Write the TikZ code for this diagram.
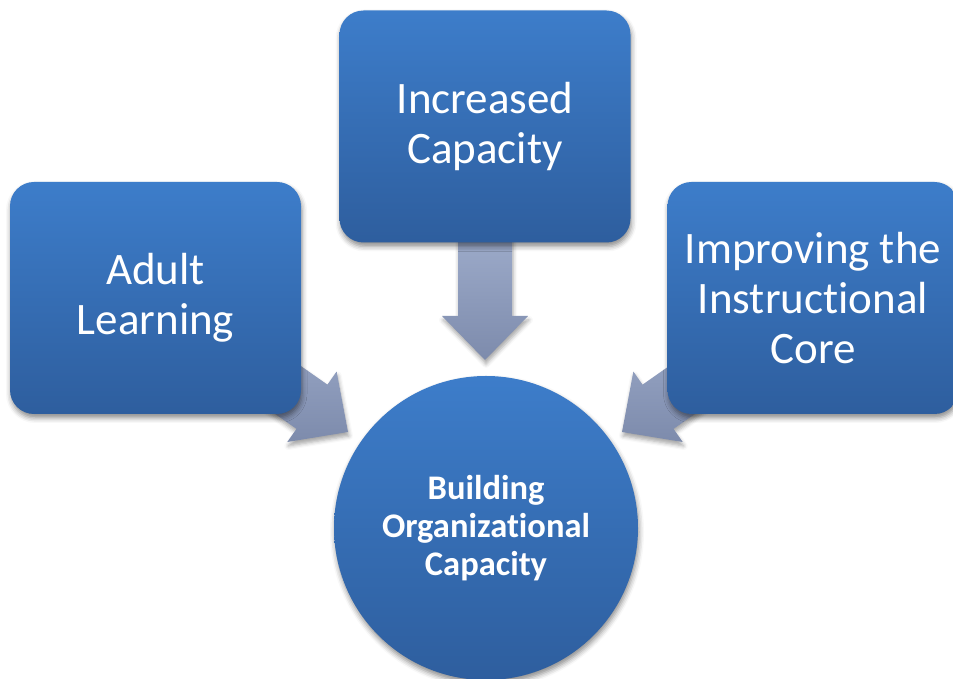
\documentclass[tikz,border=0pt]{standalone}
\usepackage{fontspec}
\setmainfont{Carlito}[Ligatures=NoCommon]
\usetikzlibrary{shadows.blur,calc}
\definecolor{boxtop}{HTML}{3D7DCA}
\definecolor{boxbot}{HTML}{2E5E9E}
\definecolor{arrtop}{HTML}{9CAAC9}
\definecolor{arrbot}{HTML}{7D8BAC}
\tikzset{
  boxnode/.style={rounded corners=24pt, minimum width=291pt, minimum height=232pt,
    shading=axis, top color=boxtop, bottom color=boxbot, text=white, align=center,
    font=\fontsize{45}{50}\selectfont,
    blur shadow={shadow xshift=1pt, shadow yshift=-4pt, shadow blur radius=5pt, shadow opacity=45}},
  hubnode/.style={circle, minimum size=304pt, inner sep=0pt,
    shading=axis, top color=boxtop, bottom color=boxbot, text=white, align=center,
    font=\bfseries\fontsize{34.5}{38}\selectfont,
    blur shadow={shadow xshift=1pt, shadow yshift=-4pt, shadow blur radius=5pt, shadow opacity=45}},
  arrowfill/.style={shading=axis, top color=arrtop, bottom color=arrbot,
    blur shadow={shadow xshift=1pt, shadow yshift=-4pt, shadow blur radius=4pt, shadow opacity=35}}
}
\newcommand{\arrowpts}[4]{% name, tip, angle, length
  \begin{scope}[shift={#2}, rotate=#3]
    \coordinate (#1p1) at (0,0);
    \coordinate (#1p2) at (-44,43);
    \coordinate (#1p3) at (-44,27);
    \coordinate (#1p4) at (-#4,27);
    \coordinate (#1p5) at (-#4,-27);
    \coordinate (#1p6) at (-44,-27);
    \coordinate (#1p7) at (-44,-43);
  \end{scope}}
\begin{document}
\begin{tikzpicture}[x=1pt,y=1pt]
\useasboundingbox (0,0) rectangle (953,679);
\clip (0,0) rectangle (953,679);
% arrows
\arrowpts{ta}{(485,319)}{-90}{122}
\arrowpts{la}{(348,247)}{-35}{150}
\arrowpts{ra}{(622,247)}{-145}{150}
\path[arrowfill] (tap1) -- (tap2) -- (tap3) -- (tap4) -- (tap5) -- (tap6) -- (tap7) -- cycle;
\path[arrowfill] (lap1) -- (lap2) -- (lap3) -- (lap4) -- (lap5) -- (lap6) -- (lap7) -- cycle;
\path[arrowfill] (rap1) -- (rap2) -- (rap3) -- (rap4) -- (rap5) -- (rap6) -- (rap7) -- cycle;
% boxes
\node[boxnode] (adult) at (155.5,381) {Adult\\Learning};
\node[boxnode] (incr) at (485,552.5) {Increased\\Capacity};
\node[boxnode] (impr) at (813,381) {Improving the\\Instructional\\Core};
% hub
\node[hubnode] (hub) at (486,151) {Building\\Organizational\\Capacity};
\end{tikzpicture}
\end{document}
